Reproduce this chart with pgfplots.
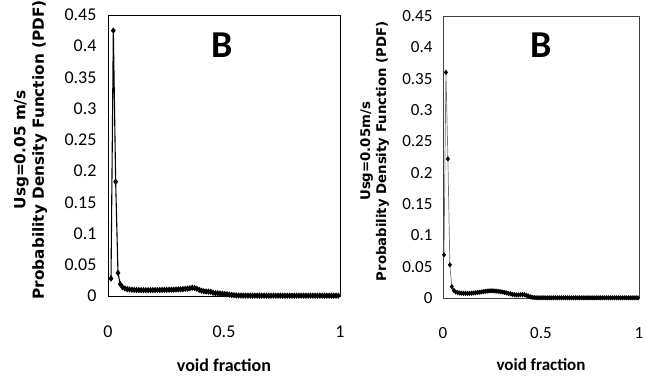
\documentclass[border=0pt]{standalone}
\usepackage{pgfplots}
\pgfplotsset{compat=1.18}
\usepackage{fontspec}
\setmainfont{Carlito}
\newfontfamily\labfont{DejaVu Sans}

\pgfplotsset{
  pdfpanel/.style={
    scale only axis,
    xmin=0, xmax=1, ymin=0, ymax=0.45,
    xtick={0,0.5,1}, ytick={0,0.05,...,0.451},
    major tick length=0pt,
    clip=false,
    axis line style={line width=0.9bp},
    /pgf/number format/assume math mode=true,
    yticklabel style={/pgf/number format/fixed, /pgf/number format/precision=2},
    xticklabel style={/pgf/number format/fixed},
  },
}

\begin{document}
\begin{tikzpicture}
\useasboundingbox (0,0) rectangle (649bp,377bp);

% ---- left panel ----
\begin{axis}[pdfpanel,
  at={(108bp,81bp)}, anchor=south west,
  width=232bp, height=281bp,
  tick label style={font=\fontsize{18bp}{21bp}\selectfont},
  yticklabel style={xshift=-8bp},
  xticklabel style={yshift=-26bp},
  xlabel={void fraction},
  xlabel style={font=\fontsize{18bp}{20bp}\selectfont\bfseries, at={(axis description cs:0.5,-0.248)}, anchor=center},
  ylabel={Usg=0.05 m/s\\Probability Density Function (PDF)},
  ylabel style={font=\fontsize{15.3bp}{18.5bp}\selectfont\labfont\bfseries, align=center, at={(axis description cs:-0.334,0.52)}, anchor=center, rotate=0},
]
\addplot[black, line width=1.1bp, mark=diamond*, mark size=2.3bp] coordinates {
(0.013,0.028) (0.023,0.425) (0.033,0.183) (0.043,0.037) (0.053,0.019)
(0.063,0.014) (0.073,0.012) (0.083,0.011) (0.093,0.0105) (0.103,0.0100)
(0.113,0.0098) (0.123,0.0096) (0.133,0.0095) (0.143,0.0094) (0.153,0.0094)
(0.163,0.0093) (0.173,0.0093) (0.183,0.0094) (0.193,0.0094) (0.203,0.0095)
(0.213,0.0095) (0.223,0.0096) (0.233,0.0097) (0.243,0.0098) (0.253,0.0099)
(0.263,0.0100) (0.273,0.0101) (0.283,0.0102) (0.293,0.0104) (0.303,0.0106)
(0.313,0.0108) (0.323,0.0110) (0.333,0.0114) (0.343,0.0118) (0.353,0.0125)
(0.363,0.0133) (0.373,0.0128) (0.383,0.0115) (0.393,0.0098) (0.403,0.0085)
(0.413,0.0076) (0.423,0.0072) (0.433,0.0070) (0.443,0.0068) (0.453,0.0052)
(0.463,0.0045) (0.473,0.0042) (0.483,0.0040) (0.493,0.0036) (0.503,0.0032)
(0.513,0.0028) (0.523,0.0022) (0.533,0.0017) (0.543,0.0013) (0.553,0.0010)
(0.563,0.0008) (0.573,0.0007) (0.583,0.0007) (0.593,0.0007) (0.603,0.0006)
(0.613,0.0006) (0.623,0.0006) (0.633,0.0006) (0.643,0.0006) (0.653,0.0006)
(0.663,0.0005) (0.673,0.0005) (0.683,0.0005) (0.693,0.0005) (0.703,0.0005)
(0.713,0.0005) (0.723,0.0005) (0.733,0.0005) (0.743,0.0005) (0.753,0.0005)
(0.763,0.0005) (0.773,0.0005) (0.783,0.0005) (0.793,0.0005) (0.803,0.0005)
(0.813,0.0005) (0.823,0.0005) (0.833,0.0005) (0.843,0.0005) (0.853,0.0005)
(0.863,0.0005) (0.873,0.0005) (0.883,0.0005) (0.893,0.0005) (0.903,0.0005)
(0.913,0.0005) (0.923,0.0005) (0.933,0.0005) (0.943,0.0005) (0.953,0.0005)
(0.963,0.0005) (0.973,0.0005) (0.983,0.0005) (0.993,0.0005)
};
\node[font=\fontsize{38bp}{40bp}\selectfont\bfseries] at (axis description cs:0.49,0.893) {B};
\end{axis}

% ---- right panel ----
\begin{axis}[pdfpanel,
  at={(443bp,79bp)}, anchor=south west,
  width=196bp, height=282bp,
  axis line style={black!75, line width=0.9bp},
  tick label style={font=\fontsize{17bp}{20bp}\selectfont},
  yticklabel style={xshift=-7bp},
  xticklabel style={yshift=-26bp},
  xlabel={void fraction},
  xlabel style={font=\fontsize{17bp}{19bp}\selectfont\bfseries, at={(axis description cs:0.5,-0.236)}, anchor=center},
  ylabel={Usg=0.05m/s\\Probability Density Function (PDF)},
  ylabel style={font=\fontsize{13.3bp}{16bp}\selectfont\labfont\bfseries, align=center, at={(axis description cs:-0.349,0.52)}, anchor=center, rotate=0},
]
\addplot[black!55, line width=0.7bp, mark=diamond*, mark size=2.1bp, mark options={black}] coordinates {
(0.005,0.069) (0.015,0.360) (0.025,0.222) (0.035,0.053) (0.045,0.018)
(0.055,0.012) (0.065,0.0095) (0.075,0.0085) (0.085,0.0080) (0.095,0.0077)
(0.105,0.0075) (0.115,0.0074) (0.125,0.0074) (0.135,0.0075) (0.145,0.0077)
(0.155,0.0080) (0.165,0.0083) (0.175,0.0087) (0.185,0.0091) (0.195,0.0096)
(0.205,0.0101) (0.215,0.0106) (0.225,0.0110) (0.235,0.0113) (0.245,0.0115)
(0.255,0.0114) (0.265,0.0112) (0.275,0.0109) (0.285,0.0105) (0.295,0.0100)
(0.305,0.0094) (0.315,0.0088) (0.325,0.0080) (0.335,0.0072) (0.345,0.0065)
(0.355,0.0058) (0.365,0.0052) (0.375,0.0048) (0.385,0.0048) (0.395,0.0052)
(0.405,0.0055) (0.415,0.0053) (0.425,0.0044) (0.435,0.0032) (0.445,0.0020)
(0.455,0.0012) (0.465,0.0007) (0.475,0.0005) (0.485,0.0004) (0.495,0.0004)
(0.505,0.0004) (0.515,0.0004) (0.525,0.0003) (0.535,0.0003) (0.545,0.0003)
(0.555,0.0003) (0.565,0.0003) (0.575,0.0003) (0.585,0.0003) (0.595,0.0003)
(0.605,0.0003) (0.615,0.0003) (0.625,0.0003) (0.635,0.0003) (0.645,0.0003)
(0.655,0.0003) (0.665,0.0003) (0.675,0.0003) (0.685,0.0003) (0.695,0.0003)
(0.705,0.0003) (0.715,0.0003) (0.725,0.0003) (0.735,0.0003) (0.745,0.0003)
(0.755,0.0003) (0.765,0.0003) (0.775,0.0003) (0.785,0.0003) (0.795,0.0003)
(0.805,0.0003) (0.815,0.0003) (0.825,0.0003) (0.835,0.0003) (0.845,0.0003)
(0.855,0.0003) (0.865,0.0003) (0.875,0.0003) (0.885,0.0003) (0.895,0.0003)
(0.905,0.0003) (0.915,0.0003) (0.925,0.0003) (0.935,0.0003) (0.945,0.0003)
(0.955,0.0003) (0.965,0.0003) (0.975,0.0003) (0.985,0.0003) (0.995,0.0003)
};
\node[font=\fontsize{38bp}{40bp}\selectfont\bfseries] at (axis description cs:0.5,0.897) {B};
\end{axis}
\end{tikzpicture}
\end{document}
